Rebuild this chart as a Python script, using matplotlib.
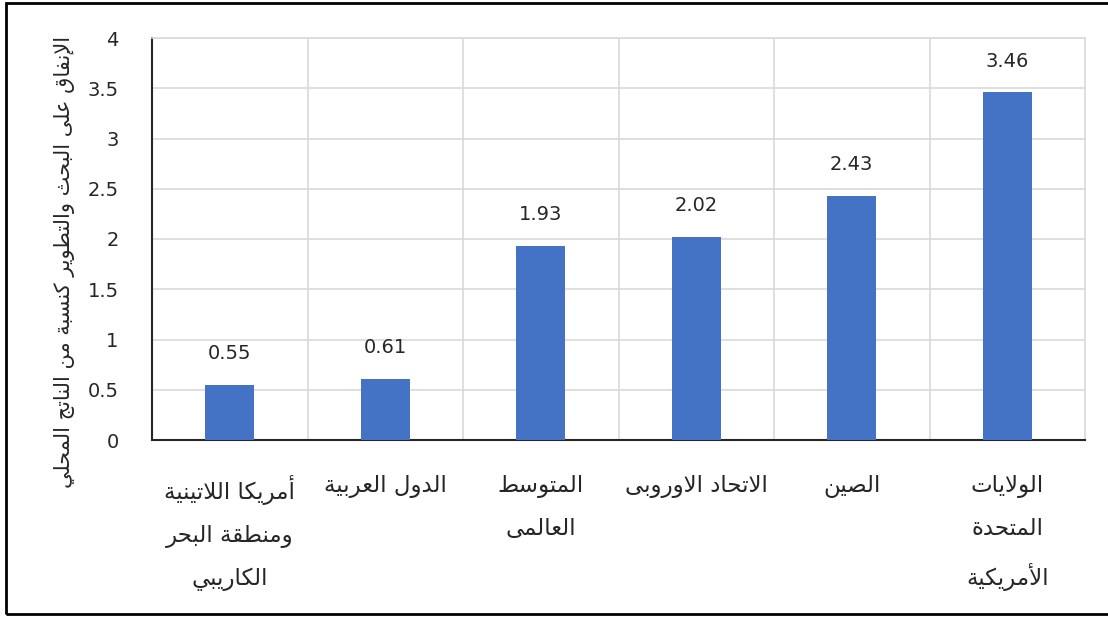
import matplotlib.pyplot as plt
from matplotlib.patches import Rectangle
import numpy as np

# Chart data
Countries = [["أمريكا اللاتينية", "ومنطقة البحر", "الكاريبي"],
             ["الدول العربية"],
             ["المتوسط", "العالمى"],
             ["الاتحاد الاوروبى"],
             ["الصين"],
             ["الولايات", "المتحدة", "الأمريكية"]]
RD_Share = [0.55, 0.61, 1.93, 2.02, 2.43, 3.46]
YLabel = "الإنفاق على البحث والتطوير كنسبة من الناتج المحلي"
YTicks = [0, 0.5, 1, 1.5, 2, 2.5, 3, 3.5, 4]
YTickLabels = ["0", "0.5", "1", "1.5", "2", "2.5", "3", "3.5", "4"]


# Minimal Arabic shaping (matplotlib has no complex text layout)
# letter -> (first presentation form code, number of forms)
Forms = {"ء": (0xFE80, 1), "آ": (0xFE81, 2), "أ": (0xFE83, 2), "ؤ": (0xFE85, 2),
         "إ": (0xFE87, 2), "ئ": (0xFE89, 4), "ا": (0xFE8D, 2), "ب": (0xFE8F, 4),
         "ة": (0xFE93, 2), "ت": (0xFE95, 4), "ث": (0xFE99, 4), "ج": (0xFE9D, 4),
         "ح": (0xFEA1, 4), "خ": (0xFEA5, 4), "د": (0xFEA9, 2), "ذ": (0xFEAB, 2),
         "ر": (0xFEAD, 2), "ز": (0xFEAF, 2), "س": (0xFEB1, 4), "ش": (0xFEB5, 4),
         "ص": (0xFEB9, 4), "ض": (0xFEBD, 4), "ط": (0xFEC1, 4), "ظ": (0xFEC5, 4),
         "ع": (0xFEC9, 4), "غ": (0xFECD, 4), "ف": (0xFED1, 4), "ق": (0xFED5, 4),
         "ك": (0xFED9, 4), "ل": (0xFEDD, 4), "م": (0xFEE1, 4), "ن": (0xFEE5, 4),
         "ه": (0xFEE9, 4), "و": (0xFEED, 2), "ى": (0xFEEF, 2), "ي": (0xFEF1, 4)}
LamAlef = {"ا": 0xFEFB, "أ": 0xFEF7, "إ": 0xFEF9, "آ": 0xFEF5}


def shape_arabic(text):
      out = []
      i = 0
      prev_joins = False  # previous glyph connects to the following one
      while i < len(text):
            ch = text[i]
            if ch not in Forms:
                  out.append(ch)
                  prev_joins = False
                  i += 1
                  continue
            nxt = text[i+1] if i+1 < len(text) else ""
            if ch == "ل" and nxt in LamAlef:
                  out.append(chr(LamAlef[nxt] + (1 if prev_joins else 0)))
                  prev_joins = False
                  i += 2
                  continue
            base, n = Forms[ch]
            joins_next = n == 4 and nxt in Forms
            if n == 1:
                  code = base
            elif prev_joins and joins_next:
                  code = base + 3
            elif prev_joins:
                  code = base + 1
            elif joins_next:
                  code = base + 2
            else:
                  code = base
            out.append(chr(code))
            prev_joins = joins_next
            i += 1
      return "".join(out)[::-1]


plt.rcParams["font.family"] = ["DejaVu Sans"]
TextColour = "#262626"

fig = plt.figure(figsize=(11.08, 6.17), dpi=100)
ax = fig.add_axes([152/1108, 1-440/617, 933/1108, 402/617])

x = np.arange(len(RD_Share))
ax.bar(x, RD_Share, width=0.315, color="#4472C4", zorder=3)
for xi, v in zip(x, RD_Share):
      ax.annotate(f"{v:.2f}", (xi, v), xytext=(0, 22.5), textcoords="offset points",
                  ha="center", va="center", fontsize=14, color=TextColour)

ax.set_xlim(-0.5, len(RD_Share)-0.5)
ax.set_ylim(0, 4)
ax.set_yticks(YTicks)
ax.set_yticklabels(YTickLabels, fontsize=14, color=TextColour)
ax.set_xticks(x)
ax.set_xticklabels(["\n".join(shape_arabic(s) for s in lines) for lines in Countries],
                   fontsize=16.5, color=TextColour, linespacing=2.05, va="top")
ax.tick_params(axis="both", length=0)
ax.tick_params(axis="y", pad=24)
ax.tick_params(axis="x", pad=25)

# Horizontal grid and category separators
ax.grid(axis="y", color="#D9D9D9", linewidth=1.2, zorder=0)
for b in np.arange(0.5, len(RD_Share)-0.5, 1):
      ax.axvline(b, color="#D9D9D9", linewidth=1.2, zorder=0)
ax.spines["top"].set_color("#D9D9D9")
ax.spines["right"].set_color("#D9D9D9")
ax.spines["top"].set_linewidth(1.2)
ax.spines["right"].set_linewidth(1.2)
ax.spines["left"].set_color(TextColour)
ax.spines["bottom"].set_color(TextColour)
ax.spines["left"].set_linewidth(1.5)
ax.spines["bottom"].set_linewidth(1.5)

fig.text(65/1108, 1-262/617, shape_arabic(YLabel), rotation=90, ha="center", va="center",
         fontsize=15, color=TextColour)

# Outer frame
fig.patches.append(Rectangle((6/1108, 3/617), 1.1, 1-6/617, transform=fig.transFigure,
                             fill=False, edgecolor="black", linewidth=2))

fig.savefig("out.png", dpi=100)
